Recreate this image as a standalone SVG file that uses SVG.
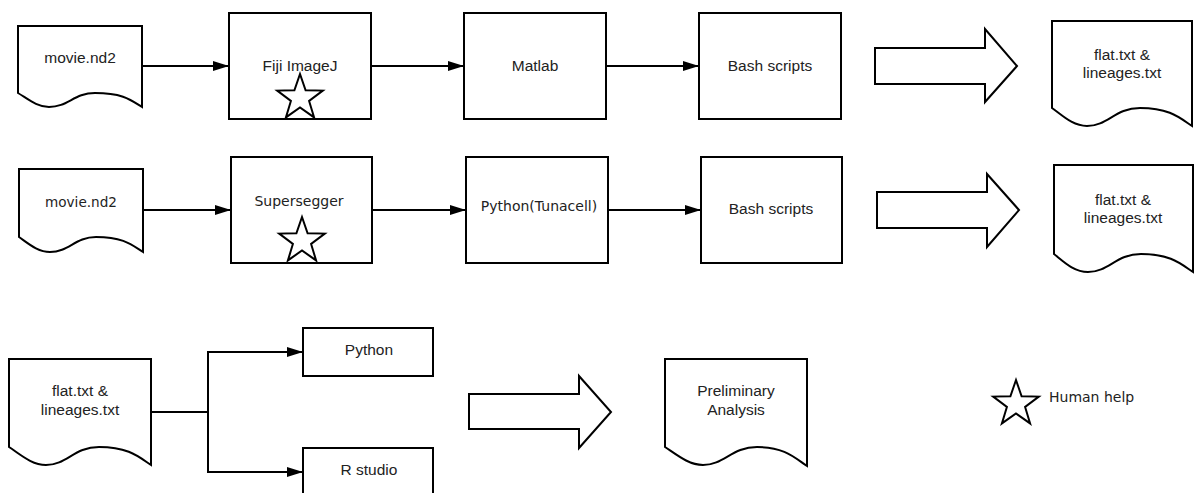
<svg xmlns="http://www.w3.org/2000/svg" width="1194" height="493" viewBox="0 0 1194 493">
<style>
.box{fill:#fff;stroke:#000;stroke-width:2}
.doc{fill:#fff;stroke:#000;stroke-width:2;stroke-linejoin:miter}
.star{fill:#fff;stroke:#000;stroke-width:2;stroke-linejoin:miter}
.big{fill:#fff;stroke:#000;stroke-width:2}
.t{font-family:"Liberation Sans",Arial,sans-serif;font-size:15.5px;fill:#222;text-anchor:middle}
.d{font-family:"DejaVu Sans",sans-serif;font-size:14px;fill:#222;text-anchor:middle}
.conn{fill:none;stroke:#000;stroke-width:2}
</style>
<defs>
<marker id="ah" markerUnits="userSpaceOnUse" markerWidth="16" markerHeight="10" refX="16" refY="5" orient="auto">
<path d="M0,0 L16,5 L0,10 z" fill="#000"/>
</marker>
<polygon id="st" points="0,-24 5.6,-7.7 22.8,-7.4 9.1,3 14.1,19.4 0,9.5 -14.1,19.4 -9.1,3 -22.8,-7.4 -5.6,-7.7"/>
</defs>
<g id="connectors">
<line class="conn" x1="142" y1="66" x2="229" y2="66" marker-end="url(#ah)"/>
<line class="conn" x1="371" y1="66" x2="464" y2="66" marker-end="url(#ah)"/>
<line class="conn" x1="606" y1="66" x2="699" y2="66" marker-end="url(#ah)"/>
<line class="conn" x1="143" y1="210" x2="231" y2="210" marker-end="url(#ah)"/>
<line class="conn" x1="372" y1="210" x2="466" y2="210" marker-end="url(#ah)"/>
<line class="conn" x1="608" y1="210" x2="701" y2="210" marker-end="url(#ah)"/>
<polyline class="conn" points="151,412 208,412"/>
<polyline class="conn" points="208,412 208,352 303,352" marker-end="url(#ah)"/>
<polyline class="conn" points="208,412 208,472 303,472" marker-end="url(#ah)"/>
</g>
<g id="movie1">
<path class="doc" d="M18,93 V26 H142 V107 C131,100 123,93 95,93 C74,93 68,107 49,107 C37,107 28,99 18,93 Z"/>
<text class="t" x="80" y="63">movie.nd2</text>
</g>
<g id="fiji">
<rect class="box" x="229" y="13" width="142" height="106"/>
<text class="t" x="300" y="71">Fiji ImageJ</text>
<use href="#st" class="star" transform="translate(300,98)"/>
</g>
<g id="matlab">
<rect class="box" x="464" y="13" width="142" height="106"/>
<text class="t" x="535" y="71">Matlab</text>
</g>
<g id="bash1">
<rect class="box" x="699" y="13" width="142" height="106"/>
<text class="t" x="770" y="71">Bash scripts</text>
</g>
<g id="bigarrow1">
<polygon class="big" points="875,48 985,48 985,29 1017,66 985,102 985,84 875,84"/>
</g>
<g id="flat1">
<path class="doc" d="M1052,108 V21 H1192 V126 C1180,118 1170,108 1140,108 C1115,108 1108,126 1087,126 C1073,126 1063,116 1052,108 Z"/>
<text class="t" x="1122" y="60">flat.txt &amp;</text>
<text class="t" x="1122" y="78">lineages.txt</text>
</g>
<g id="movie2">
<path class="doc" d="M19,237 V169 H143 V252 C132,245 124,237 96,237 C75,237 69,252 50,252 C38,252 29,244 19,237 Z"/>
<text class="d" x="81" y="207" style="font-size:13.6px">movie.nd2</text>
</g>
<g id="supersegger">
<rect class="box" x="231" y="157" width="141" height="106"/>
<text class="d" x="299" y="206">Supersegger</text>
<use href="#st" class="star" transform="translate(302,241)"/>
</g>
<g id="tunacell">
<rect class="box" x="466" y="157" width="142" height="106"/>
<text class="d" x="539" y="211">Python(Tunacell)</text>
</g>
<g id="bash2">
<rect class="box" x="701" y="157" width="141" height="106"/>
<text class="t" x="771" y="214">Bash scripts</text>
</g>
<g id="bigarrow2">
<polygon class="big" points="877,192 987,192 987,174 1019,210 987,247 987,228 877,228"/>
</g>
<g id="flat2">
<path class="doc" d="M1054,254 V165 H1193 V272 C1181,264 1171,254 1141,254 C1116,254 1109,272 1088,272 C1074,272 1064,262 1054,254 Z"/>
<text class="t" x="1123" y="205">flat.txt &amp;</text>
<text class="t" x="1123" y="223">lineages.txt</text>
</g>
<g id="flat3">
<path class="doc" d="M9,447 V359 H151 V465 C139,457 129,447 99,447 C74,447 67,465 46,465 C32,465 21,455 9,447 Z"/>
<text class="t" x="80" y="396">flat.txt &amp;</text>
<text class="t" x="80" y="415">lineages.txt</text>
</g>
<g id="python">
<rect class="box" x="303" y="328" width="130" height="48"/>
<text class="t" x="369" y="355">Python</text>
</g>
<g id="rstudio">
<rect class="box" x="303" y="448" width="130" height="60"/>
<text class="t" x="369" y="475">R studio</text>
</g>
<g id="bigarrow3">
<polygon class="big" points="469,394 579,394 579,376 611,412 579,448 579,429 469,429"/>
</g>
<g id="preliminary">
<path class="doc" d="M665,447 V359 H807 V466 C795,458 785,447 757,447 C732,447 724,465 703,465 C689,465 677,455 665,447 Z"/>
<text class="t" x="736" y="396">Preliminary</text>
<text class="t" x="736" y="415">Analysis</text>
</g>
<g id="legend">
<use href="#st" class="star" transform="translate(1016,404)"/>
<text class="d" x="1049" y="402" style="text-anchor:start">Human help</text>
</g>
</svg>
